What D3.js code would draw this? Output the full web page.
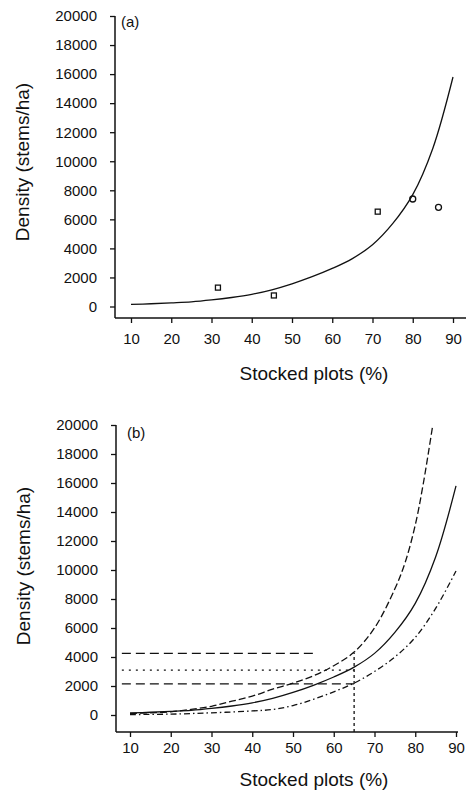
<!DOCTYPE html>
<html>
<head>
<meta charset="utf-8">
<script src="https://cdn.jsdelivr.net/npm/d3@7"></script>
<style>
  body { margin: 0; background: #fff; }
  svg text { font-family: "Liberation Sans", Arial, sans-serif; fill: #111; }
</style>
</head>
<body>
<svg width="468" height="791"></svg>
<script>
// 1. Data
const yTicks = [0, 2000, 4000, 6000, 8000, 10000, 12000, 14000, 16000, 18000, 20000];
const xTicks = [10, 20, 30, 40, 50, 60, 70, 80, 90];

// observed points, panel (a)
const obsStock = [31.6, 45.5, 71.3, 80.0, 86.4];
const obsDensity = [1300, 760, 6530, 7400, 6830];
const obsShape = ["square", "square", "square", "circle", "circle"];

// fitted curve (same in both panels)
const fitStock = [10, 15, 20, 25, 30, 35, 40, 45, 50, 55, 60, 65, 70, 75, 80, 85, 90];
const fitDensity = [140, 190, 250, 320, 450, 620, 840, 1150, 1560, 2050, 2620, 3300, 4250, 5700, 7700, 10900, 15800];

// upper and lower bounds, panel (b)
const upperStock = [10, 15, 20, 25, 30, 35, 40, 45, 50, 55, 60, 65, 70, 75, 77.5, 80, 82, 84.3];
const upperDensity = [100, 150, 220, 390, 600, 950, 1300, 1780, 2200, 2700, 3400, 4340, 6000, 8700, 10500, 13100, 16000, 20000];
const lowerStock = [10, 20, 30, 40, 45, 50, 55, 60, 65, 70, 75, 80, 85, 90];
const lowerDensity = [30, 60, 150, 280, 380, 650, 1080, 1600, 2200, 3000, 4000, 5350, 7350, 9930];

// reading lines at 65 % stocked, panel (b)
const readStock = 65;
const readHigh = 4250, readMid = 3100, readLow = 2150, readTop = 4300;

const svg = d3.select("svg");

// 2. Panel helper
function drawPanel(p) {
    const x = d3.scaleLinear().domain([10, 90]).range([p.x10, p.x90]);
    const y = d3.scaleLinear().domain([0, 20000]).range([p.y0, p.y20k]);
    const g = svg.append("g");

    // spines
    g.append("line").attr("x1", p.axisX).attr("x2", p.axisX)
        .attr("y1", p.y20k).attr("y2", p.axisY)
        .attr("stroke", "#111").attr("stroke-width", 1.5);
    g.append("line").attr("x1", p.axisX).attr("x2", p.xEnd)
        .attr("y1", p.axisY).attr("y2", p.axisY)
        .attr("stroke", "#111").attr("stroke-width", 1.5);

    const yAxis = g.append("g")
        .attr("transform", `translate(${p.axisX},0)`)
        .call(d3.axisLeft(y).tickValues(yTicks).tickSize(5).tickPadding(13).tickFormat(d3.format("d")));
    const xAxis = g.append("g")
        .attr("transform", `translate(0,${p.axisY})`)
        .call(d3.axisBottom(x).tickValues(xTicks).tickSize(5).tickPadding(p.xPad));
    [yAxis, xAxis].forEach(a => {
        a.select(".domain").remove();
        a.selectAll("line").attr("stroke", "#111").attr("stroke-width", 1.3);
        a.selectAll("text").attr("font-size", 15).attr("fill", "#111")
            .style("font-family", "'Liberation Sans', Arial, sans-serif");
    });

    g.append("text")
        .attr("transform", `translate(${p.titleX},${p.titleY}) rotate(-90)`)
        .attr("text-anchor", "middle").attr("dy", "0.35em")
        .attr("font-size", 19)
        .text("Density (stems/ha)");
    g.append("text")
        .attr("x", 314).attr("y", p.xTitleY)
        .attr("text-anchor", "middle")
        .attr("font-size", 19)
        .text("Stocked plots (%)");
    g.append("text")
        .attr("x", p.tagX).attr("y", p.tagY)
        .attr("font-size", 15)
        .text(p.tag);

    return { g, x, y };
}

const line = (x, y) => d3.line().x(d => x(d[0])).y(d => y(d[1])).curve(d3.curveCatmullRom.alpha(0.5));

// 3. Panel (a)
const a = drawPanel({
    x10: 131, x90: 453, y0: 306.5, y20k: 16,
    axisX: 115, axisY: 318, xEnd: 466, xPad: 10,
    titleX: 22, titleY: 162, xTitleY: 380,
    tag: "(a)", tagX: 121, tagY: 27
});

a.g.append("path")
    .datum(d3.zip(fitStock, fitDensity))
    .attr("fill", "none").attr("stroke", "#111").attr("stroke-width", 1.3)
    .attr("d", line(a.x, a.y));

obsStock.forEach((s, i) => {
    if (obsShape[i] === "square") {
        a.g.append("rect")
            .attr("x", a.x(s) - 2.5).attr("y", a.y(obsDensity[i]) - 2.5)
            .attr("width", 5).attr("height", 5)
            .attr("fill", "none").attr("stroke", "#111").attr("stroke-width", 1.3);
    } else {
        a.g.append("circle")
            .attr("cx", a.x(s)).attr("cy", a.y(obsDensity[i])).attr("r", 3)
            .attr("fill", "none").attr("stroke", "#111").attr("stroke-width", 1.3);
    }
});

// 4. Panel (b)
const b = drawPanel({
    x10: 130, x90: 456, y0: 715, y20k: 425,
    axisX: 116, axisY: 732, xEnd: 458, xPad: 5,
    titleX: 23, titleY: 566, xTitleY: 786,
    tag: "(b)", tagX: 127, tagY: 438
});

b.g.append("path")
    .datum(d3.zip(upperStock, upperDensity))
    .attr("fill", "none").attr("stroke", "#111").attr("stroke-width", 1.3)
    .attr("stroke-dasharray", "7,3")
    .attr("d", line(b.x, b.y));
b.g.append("path")
    .datum(d3.zip(fitStock, fitDensity))
    .attr("fill", "none").attr("stroke", "#111").attr("stroke-width", 1.3)
    .attr("d", line(b.x, b.y));
b.g.append("path")
    .datum(d3.zip(lowerStock, lowerDensity))
    .attr("fill", "none").attr("stroke", "#111").attr("stroke-width", 1.3)
    .attr("stroke-dasharray", "6,3,1.5,3")
    .attr("d", line(b.x, b.y));

// reading lines
const xStartRead = 8;
[[readHigh, 56, "9,5"], [readMid, readStock, "2,5"], [readLow, readStock, "9,5"]].forEach(r => {
    b.g.append("line")
        .attr("x1", b.x(xStartRead)).attr("x2", b.x(r[1]))
        .attr("y1", b.y(r[0])).attr("y2", b.y(r[0]))
        .attr("stroke", "#111").attr("stroke-width", 1.3)
        .attr("stroke-dasharray", r[2]);
});
b.g.append("line")
    .attr("x1", b.x(readStock)).attr("x2", b.x(readStock))
    .attr("y1", 732).attr("y2", b.y(readTop))
    .attr("stroke", "#111").attr("stroke-width", 1.3)
    .attr("stroke-dasharray", "3,3");
</script>
</body>
</html>
